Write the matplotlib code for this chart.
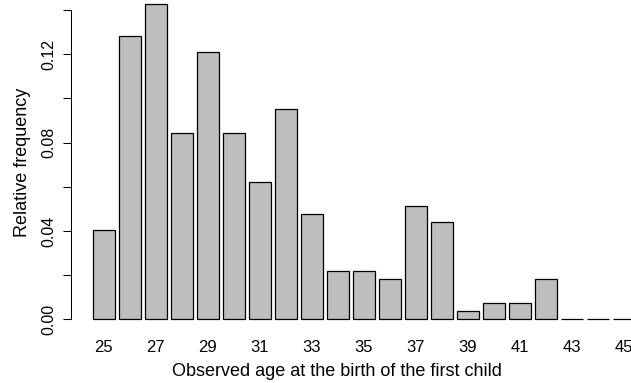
import numpy as np
import matplotlib.pyplot as plt

ages = list(range(25, 46))
rel_freq = [0.0404, 0.1283, 0.1428, 0.0842, 0.1209, 0.0842, 0.0623, 0.0954,
            0.0476, 0.0220, 0.0220, 0.0184, 0.0512, 0.0439, 0.0036, 0.0072,
            0.0072, 0.0184, 0.0, 0.0, 0.0]
y_ticks = [0.0, 0.02, 0.04, 0.06, 0.08, 0.10, 0.12, 0.14]
y_labels = ["0.00", "", "0.04", "", "0.08", "", "0.12", ""]
x_labels = ages[::2]

plt.rcParams["font.family"] = ["Liberation Sans", "DejaVu Sans"]

W, H = 631, 383
fig = plt.figure(figsize=(W / 100, H / 100), dpi=100)

# plot region in pixels: y-axis line at x=71.3, zero line at y=319.3
px_per_unit = 2208.0
x0_px, zero_px, bottom_px = 71.3, 319.3, 325.0
ax = fig.add_axes([x0_px / W, 1 - bottom_px / H, 1 - x0_px / W, bottom_px / H])


def to_axes(px, py):
    return (px - x0_px) / (W - x0_px), (bottom_px - py) / bottom_px


ax.bar(ages, rel_freq, width=0.8333, color="#bebebe", edgecolor="black",
       linewidth=0.9)

ax.set_xlim(23.754, 23.754 + (W - x0_px) / 26.0)
ax.set_ylim(-(bottom_px - zero_px) / px_per_unit, zero_px / px_per_unit)

for side in ["top", "right", "bottom"]:
    ax.spines[side].set_visible(False)
ax.spines["left"].set_bounds(0, 0.14)
ax.spines["left"].set_linewidth(0.75)

ax.set_yticks(y_ticks)
ax.set_yticklabels(y_labels, rotation=90, va="center", fontsize=11.5)
ax.tick_params(axis="y", length=5.8, width=0.75, pad=5)

ax.set_xticks(x_labels)
ax.set_xticklabels([str(a) for a in x_labels], fontsize=12)
ax.tick_params(axis="x", length=0, pad=11)

ax.set_xlabel("Observed age at the birth of the first child", fontsize=13)
ax.xaxis.set_label_coords(*to_axes(337, 363))
ax.set_ylabel("Relative frequency", fontsize=13)
ax.yaxis.set_label_coords(*to_axes(31, 162.5))

fig.savefig("out.png", dpi=100)
